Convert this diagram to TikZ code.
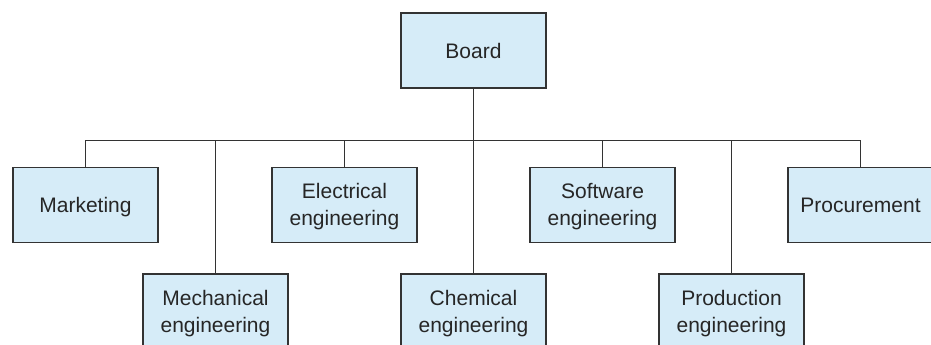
\documentclass[tikz,border=0pt]{standalone}
\usepackage{fontspec}
\setmainfont{Liberation Sans}
\usepackage{tikz}
\definecolor{boxblue}{HTML}{D6ECF8}
\definecolor{edge}{HTML}{333333}
\begin{document}
\begin{tikzpicture}[x=1pt, y=1pt,
		unit/.style={draw=edge, fill=boxblue, line width=1.2pt, minimum width=145pt, minimum height=75pt, inner sep=0pt, text depth=0pt, align=center, font=\fontsize{21}{27}\selectfont, text=black!85},
		link/.style={draw=edge, line width=1.1pt}]
			%%%%% START %%%%%
			
			\clip (0, 0) rectangle (931, -345);
			
			\node[unit] (board) at (473.5, -50.5) {Board};
			
			\node[unit] (mkt) at (85.5, -204.8) {Marketing};
			\node[unit] (elec) at (344.5, -204.8) {Electrical\\engineering};
			\node[unit] (soft) at (602.5, -204.8) {Software\\engineering};
			\node[unit] (proc) at (860.5, -204.8) {Procurement};
			
			\node[unit] (mech) at (215.5, -311.5) {Mechanical\\engineering};
			\node[unit] (chem) at (473.5, -311.5) {Chemical\\engineering};
			\node[unit] (prod) at (731.5, -311.5) {Production\\engineering};
			
			\coordinate (bus) at (0, -140.5);
			
			\draw[link] (board.south) -- (chem.north);
			\draw[link] (mkt.north) -- (mkt.north |- bus) -- (proc.north |- bus) -- (proc.north);
			\draw[link] (elec.north) -- (elec.north |- bus);
			\draw[link] (soft.north) -- (soft.north |- bus);
			\draw[link] (mech.north) -- (mech.north |- bus);
			\draw[link] (prod.north) -- (prod.north |- bus);
			
			%%%%% END %%%%%
		\end{tikzpicture}
\end{document}
